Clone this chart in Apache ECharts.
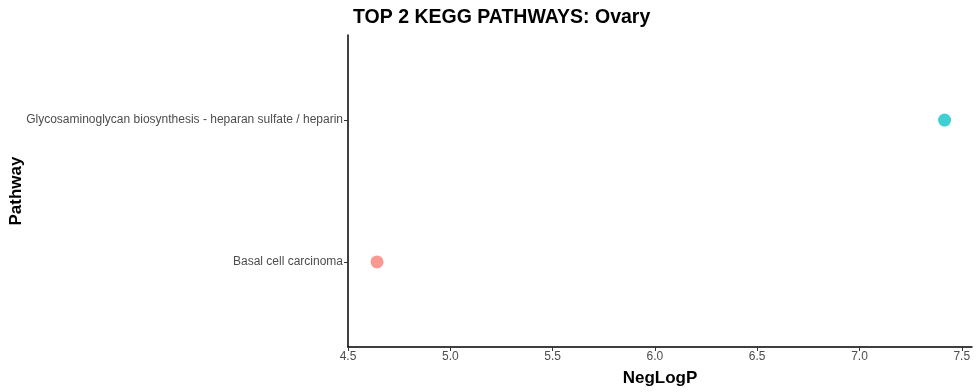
<!DOCTYPE html>
<html><head><meta charset="utf-8">
<script src="https://cdn.jsdelivr.net/npm/echarts@6/dist/echarts.min.js"></script>
<style>html,body{margin:0;padding:0;background:#fff}#c{width:980px;height:392px}</style>
</head><body><div id="c"></div>
<script>
const pathways = ["Basal cell carcinoma", "Glycosaminoglycan biosynthesis - heparan sulfate / heparin"];
const negLogP = [4.642, 7.416];
const colors = ["#F8766D", "#00BFC4"];
const xTicks = [4.5, 5.0, 5.5, 6.0, 6.5, 7.0, 7.5];

const chart = echarts.init(document.getElementById('c'), null, {renderer: 'canvas'});
const positions = pathways.map((p, i) => i + 1);
chart.setOption({
  animation: false,
  backgroundColor: '#ffffff',
  title: {
    text: 'TOP 2 KEGG PATHWAYS: Ovary',
    left: 348, top: 3,
    textStyle: {fontFamily: 'Liberation Sans, Arial', fontWeight: 'bold', fontSize: 19.5, color: '#000'}
  },
  grid: {left: 348, right: 8, top: 35, bottom: 45, containLabel: false, outerBoundsMode: 'none'},
  xAxis: {
    type: 'value', min: 4.5, max: 7.55,
    name: 'NegLogP', nameLocation: 'middle', nameGap: 23, nameMoveOverlap: false,
    nameTextStyle: {fontFamily: 'Liberation Sans, Arial', fontWeight: 'bold', fontSize: 17, color: '#000'},
    axisLine: {show: true, lineStyle: {color: '#000', width: 1.5}},
    axisTick: {show: true, length: 4, lineStyle: {color: '#333'}, customValues: xTicks},
    axisLabel: {customValues: xTicks, color: '#4d4d4d', fontSize: 12, margin: 4,
      fontFamily: 'Liberation Sans, Arial', formatter: v => v.toFixed(1)},
    splitLine: {show: false}
  },
  yAxis: {
    type: 'value', min: 0.4, max: 2.6,
    name: 'Pathway', nameLocation: 'middle', nameGap: 323, nameRotate: 90, nameMoveOverlap: false,
    nameTextStyle: {fontFamily: 'Liberation Sans, Arial', fontWeight: 'bold', fontSize: 17, color: '#000'},
    axisLine: {show: true, lineStyle: {color: '#000', width: 1.5}},
    axisTick: {show: true, length: 4, lineStyle: {color: '#333'}, customValues: positions},
    axisLabel: {customValues: positions, color: '#4d4d4d', fontSize: 12, margin: 5,
      fontFamily: 'Liberation Sans, Arial', formatter: v => pathways[Math.round(v) - 1] || ''},
    splitLine: {show: false}
  },
  series: [{
    type: 'scatter',
    symbolSize: 13,
    data: negLogP.map((v, i) => ({value: [v, i + 1], itemStyle: {color: colors[i], opacity: 0.75}}))
  }]
});
</script></body></html>
